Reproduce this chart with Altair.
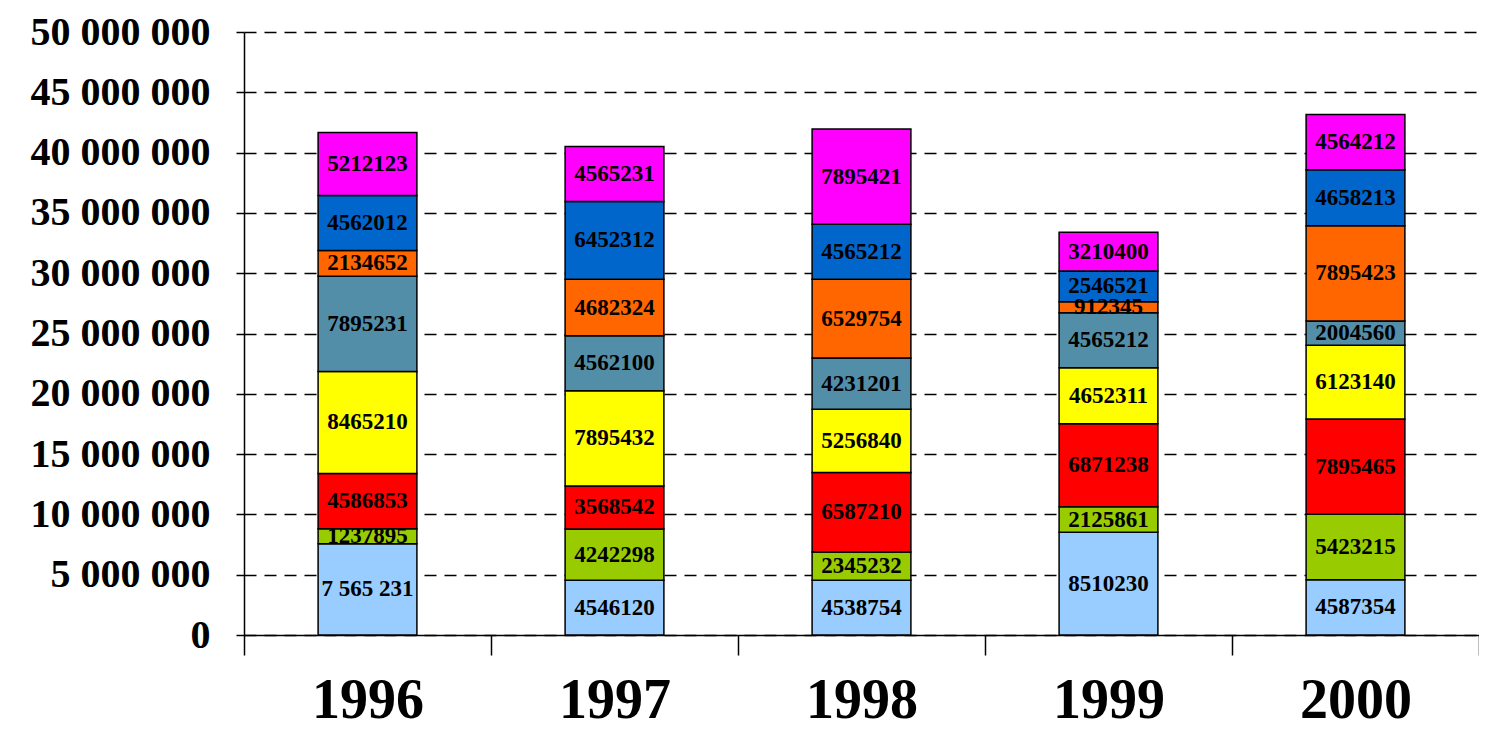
import altair as alt
import pandas as pd

years = ["1996", "1997", "1998", "1999", "2000"]
series = ["S1", "S2", "S3", "S4", "S5", "S6", "S7", "S8"]
colors = ["#99CCFF", "#99CC00", "#FF0000", "#FFFF00", "#528EA8", "#FF6600", "#0066CC", "#FF00FF"]

v1996 = [7565231, 1237895, 4586853, 8465210, 7895231, 2134652, 4562012, 5212123]
v1997 = [4546120, 4242298, 3568542, 7895432, 4562100, 4682324, 6452312, 4565231]
v1998 = [4538754, 2345232, 6587210, 5256840, 4231201, 6529754, 4565212, 7895421]
v1999 = [8510230, 2125861, 6871238, 4652311, 4565212, 912345, 2546521, 3210400]
v2000 = [4587354, 5423215, 7895465, 6123140, 2004560, 7895423, 4658213, 4564212]
values_by_year = [v1996, v1997, v1998, v1999, v2000]

# label shown with thousands spaces in the original
spaced_labels = {("1996", "S1")}

y_ticks = [0, 5000000, 10000000, 15000000, 20000000, 25000000,
           30000000, 35000000, 40000000, 45000000, 50000000]

rows = []
for year, vals in zip(years, values_by_year):
    for i, (s, v) in enumerate(zip(series, vals)):
        lab = f"{v:,}".replace(",", " ") if (year, s) in spaced_labels else str(v)
        rows.append({"year": year, "series": s, "order": i, "value": v, "label": lab})
df = pd.DataFrame(rows)

FONT = "Liberation Serif"

xenc = alt.X(
    "year:N", sort=years,
    scale=alt.Scale(paddingInner=0, paddingOuter=0),
    axis=alt.Axis(
        title=None, labelAngle=0, tickBand="extent", tickSize=20, tickColor="black",
        tickWidth=1.5, domainColor="black", domainWidth=1.5, labelFont=FONT,
        labelFontSize=56, labelFontWeight="bold", labelColor="black",
        labelPadding=18, labelOverlap=False, labelLimit=0, grid=False,
    ),
)

bars = alt.Chart(df).mark_bar(
    stroke="black", strokeWidth=1.5, width=alt.RelativeBandSize(0.4)
).encode(
    x=xenc,
    y=alt.Y(
        "value:Q", stack="zero",
        scale=alt.Scale(domain=[0, 50000000], nice=False),
        axis=alt.Axis(
            title=None, values=y_ticks, grid=True, gridColor="black", gridDash=[12, 8],
            gridWidth=1.5, gridOpacity=1, domainColor="black", domainWidth=1.5,
            tickColor="black", tickSize=8, tickWidth=1.5, labelFont=FONT,
            labelFontSize=40, labelFontWeight="bold", labelColor="black",
            labelPadding=26, labelOverlap=False, labelLimit=0,
            labelExpr="join(split(format(datum.value, ',d'), ','), ' ')",
        ),
    ),
    color=alt.Color("series:N", scale=alt.Scale(domain=series, range=colors), legend=None),
    order=alt.Order("order:Q", sort="ascending"),
)

text = alt.Chart(df).transform_stack(
    stack="value", groupby=["year"], as_=["v0", "v1"],
    sort=[alt.SortField("order", order="ascending")],
).transform_calculate(
    mid="(datum.v0 + datum.v1) / 2"
).mark_text(
    font=FONT, fontSize=23, fontWeight="bold", color="black", baseline="middle", align="center"
).encode(
    x=alt.X("year:N", sort=years),
    y=alt.Y("mid:Q"),
    text="label:N",
)

chart = alt.layer(bars, text).properties(
    width=1235, height=603,
    autosize=alt.AutoSizeParams(type="none"),
    padding={"left": 236, "top": 24, "right": 0, "bottom": 98},
    background="white",
).configure_view(stroke=None)

chart.save("out.html", embed_options={"renderer": "svg", "actions": False})
